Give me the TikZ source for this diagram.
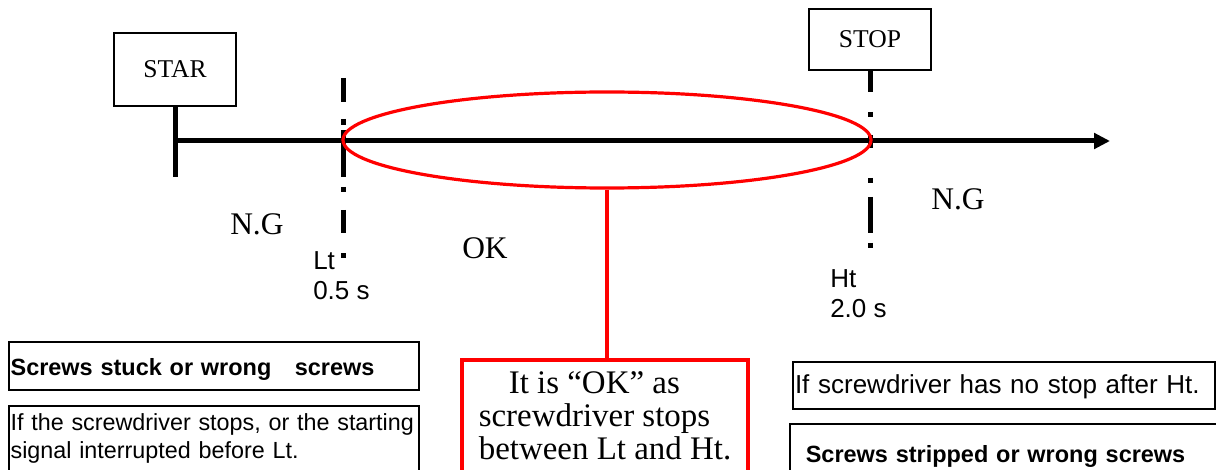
\documentclass[tikz,border=0pt]{standalone}
\usepackage{fontspec}
\setmainfont{Liberation Serif}
\setsansfont{Liberation Sans}
\usetikzlibrary{arrows.meta,shapes.geometric}
\begin{document}
\begin{tikzpicture}[x=0.75pt,y=-0.75pt,
  boxlabel/.style={draw=black, line width=2.2pt, inner sep=0pt, font=\fontsize{19.2pt}{23pt}\selectfont},
  thickline/.style={line width=3.75pt},
  tick/.style={line width=3.75pt},
  redline/.style={draw=red, line width=2.4pt},
  bignote/.style={font=\fontsize{23.6pt}{28pt}\selectfont, inner sep=0pt},
  timelabel/.style={font=\sffamily\fontsize{19.5pt}{22.5pt}\selectfont, align=left, inner sep=0pt},
  notebox/.style={draw=black, line width=1.2pt, font=\sffamily\fontsize{17.6pt}{21pt}\selectfont, align=left}
]
\useasboundingbox (0,0) rectangle (1216,470);
\clip (0,0) rectangle (1216,470);

% start / stop boxes
\node[boxlabel, minimum width=91.5pt, minimum height=54.75pt] (star) at (175,69.5) {STAR};
\node[boxlabel, minimum width=91.5pt, minimum height=45.75pt] (stop) at (870,39.5) {STOP};

% time axis
\coordinate (startend) at (175,177);
\draw[thickline] (star.south) -- (startend);
\coordinate (axisL) at (175,141);
\coordinate (axisR) at (1110,141);
\draw[thickline, -{Triangle[length=12pt,width=11.5pt]}] (axisL) -- (axisR);

% Lt dash-dot marker
\foreach \a/\b in {78/102,119/125,130/177,187/192,210/233,253/258}
  \draw[tick] (343,\a) -- (343,\b);
% Ht dash-dot marker
\coordinate (htfirst) at (870,92);
\draw[tick] (stop.south) -- (htfirst);
\foreach \a/\b in {112/117,135/148,178/183,197/233,243/248}
  \draw[tick] (870,\a) -- (870,\b);

% OK region
\node[ellipse, draw=red, line width=2.4pt, minimum width=396pt, minimum height=72pt, inner sep=0pt] (okarea) at (607,140) {};

\node[draw=red, line width=3pt, anchor=north, minimum width=214.5pt, align=left,
      inner xsep=0pt, inner ysep=8.6pt, text depth=60pt,
      font=\fontsize{24.7pt}{24.75pt}\selectfont] (okbox) at (605,358)
  {\hspace*{22.5pt}It is “OK” as\\screwdriver stops\\between Lt and Ht.};
\draw[redline] (okarea.south) -- (okarea.south |- okbox.north);

% labels
\node[bignote, anchor=base west] (ngleft) at (230,234) {N.G};
\node[bignote, anchor=base west] (ngright) at (931,210) {N.G};
\node[bignote, anchor=base west] (ok) at (462,258) {OK};
\node[timelabel, anchor=north west] (ltlabel) at (313,251) {Lt\\0.5 s};
\node[timelabel, anchor=north west] (htlabel) at (830,269) {Ht\\2.0 s};

% note boxes
\node[notebox, minimum width=307.5pt, minimum height=36pt, text width=305.1pt, inner xsep=1.2pt,
      text height=13.5pt, text depth=0pt] (stuckbox) at (214,366)
  {\mbox{\bfseries Screws stuck or wrong\ \ \ screws}};
\node[notebox, anchor=north, text width=305.1pt, inner xsep=1.2pt, inner ysep=5.6pt, text depth=50pt,
      font=\sffamily\fontsize{17.5pt}{21pt}\selectfont] (ltbox) at (214,405)
  {\mbox{If the screwdriver stops, or the starting}\\\mbox{signal interrupted before Lt.}};
\node[notebox, minimum width=316.5pt, minimum height=35.25pt, text width=313.5pt, inner xsep=1.5pt,
      text height=11.25pt, text depth=0pt,
      font=\sffamily\fontsize{19.5pt}{23pt}\selectfont] (htbox) at (1004,385.5)
  {\mbox{If screwdriver has no stop after Ht.}};
\node[notebox, anchor=north west, text width=330pt, inner xsep=12pt, inner ysep=16pt, text depth=40pt] (stripbox) at (789,423)
  {\mbox{\bfseries Screws stripped or wrong screws}};
\end{tikzpicture}
\end{document}
